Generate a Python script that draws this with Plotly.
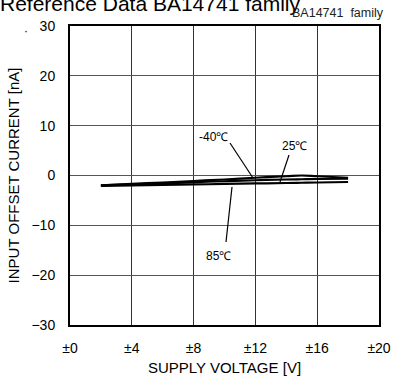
import plotly.graph_objects as go

voltage = [2, 4, 6, 8, 10, 12, 14, 15, 16, 18]
i_m40 = [-2.0, -1.7, -1.4, -1.1, -0.8, -0.45, -0.15, 0.0, -0.15, -0.45]
i_25 = [-2.0, -1.8, -1.6, -1.35, -1.15, -0.95, -0.8, -0.75, -0.7, -0.65]
i_85 = [-2.1, -2.0, -1.9, -1.8, -1.7, -1.6, -1.5, -1.45, -1.4, -1.3]

x_ticks = [0, 4, 8, 12, 16, 20]
x_labels = ["±0", "±4", "±8", "±12", "±16", "±20"]
y_ticks = [-30, -20, -10, 0, 10, 20, 30]

FONT = "Liberation Sans, Arial, sans-serif"
L, R, T, B = 70, 14, 26, 56
PW, PH = 393 - L - R, 381 - T - B

fig = go.Figure()
for ys in (i_m40, i_25, i_85):
    fig.add_trace(go.Scatter(x=voltage, y=ys, mode="lines",
                             line=dict(color="black", width=2.2, shape="spline"),
                             showlegend=False))

def px2x(px):
    return (px - L) / PW * 20

def px2y(py):
    return 30 - (py - T) / PH * 60

def ppx(px):
    return (px - L) / PW

def ppy(py):
    return 1 - (py - T) / PH

leaders = [
    ((230, 143), (253, 178)),
    ((289, 155), (280, 182)),
    ((232, 187), (226, 242)),
]
for (x0, y0), (x1, y1) in leaders:
    fig.add_shape(type="line", x0=px2x(x0), y0=px2y(y0), x1=px2x(x1), y1=px2y(y1),
                  line=dict(color="black", width=1.2))

labels = [("-40℃", 213, 137), ("25℃", 294, 146), ("85℃", 218, 256)]
for t, x, y in labels:
    fig.add_annotation(x=px2x(x), y=px2y(y), text=t, showarrow=False,
                       font=dict(size=12, color="black", family=FONT))

fig.add_annotation(xref="paper", yref="paper", x=ppx(150), y=ppy(3),
                   text="Reference Data BA14741 family", showarrow=False,
                   xanchor="center", yanchor="middle",
                   font=dict(size=21, color="black", family=FONT))
fig.add_annotation(xref="paper", yref="paper", x=ppx(386), y=ppy(13),
                   text="BA14741  family", showarrow=False,
                   xanchor="right", yanchor="middle",
                   font=dict(size=12.5, color="#222", family=FONT))
fig.add_annotation(xref="paper", yref="paper", x=ppx(22), y=ppy(22),
                   text="·", showarrow=False,
                   font=dict(size=12, color="black", family=FONT))

fig.update_xaxes(range=[0, 20], tickvals=x_ticks, ticktext=x_labels,
                 showgrid=True, gridcolor="#333", gridwidth=1,
                 showline=True, linecolor="black", linewidth=2, mirror=True,
                 ticks="", zeroline=False, automargin=False,
                 ticklabelstandoff=9,
                 title=dict(text="SUPPLY VOLTAGE [V]", font=dict(size=15, family=FONT, color="black"), standoff=8),
                 tickfont=dict(size=14, family=FONT, color="black"))
fig.update_yaxes(range=[-30, 30], tickvals=y_ticks,
                 showgrid=True, gridcolor="#555", gridwidth=1,
                 showline=True, linecolor="black", linewidth=2, mirror=True,
                 ticks="", zeroline=False, automargin=False,
                 ticklabelstandoff=10,
                 title=dict(text="INPUT OFFSET CURRENT [nA]", font=dict(size=15, family=FONT, color="black"), standoff=8),
                 tickfont=dict(size=14, family=FONT, color="black"))

fig.update_layout(width=393, height=381, margin=dict(l=L, r=R, t=T, b=B),
                  plot_bgcolor="white", paper_bgcolor="white",
                  font=dict(family=FONT, color="black"))
fig.write_html("out.html", config={"displayModeBar": False},
               post_script="document.body.style.margin='0';document.body.style.overflow='hidden';")
